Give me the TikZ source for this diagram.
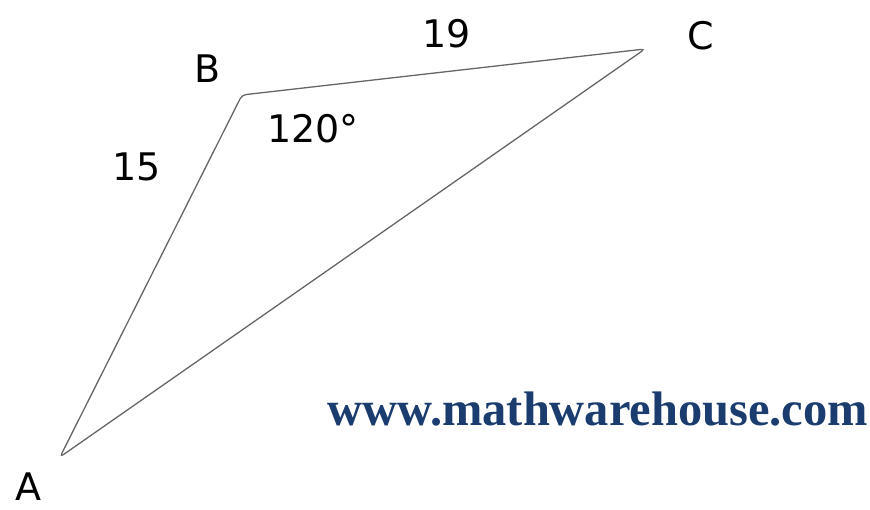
\documentclass[tikz,border=0pt]{standalone}
\usepackage{fontspec}
\setmainfont{DejaVu Sans}
\newfontfamily\urlfont{Liberation Serif}
\definecolor{urlblue}{HTML}{1A3C6E}
\begin{document}
\begin{tikzpicture}[x=1pt,y=1pt,
  lbl/.style={font=\fontsize{38}{44}\selectfont, text=black, inner sep=0pt},
  side/.style={draw=black!60, line width=1.3pt}]
\useasboundingbox (0,0) rectangle (870,510);
\coordinate (A) at (60,53);
\coordinate (B) at (242,415);
\coordinate (C) at (645,461);
\draw[side, rounded corners=4pt] (A) -- (B) -- (C) -- cycle;
\node[lbl] (lA) at (28,23) {A};
\node[lbl] (lB) at (208,441) {B};
\node[lbl] (lC) at (701,474) {C};
\node[lbl] (l19) at (447,476) {19};
\node[lbl] (l15) at (137,343) {15};
\node[lbl] (lang) at (313,381) {120°};
\node[inner sep=0pt, text=urlblue] (url) at (598,101) {\resizebox{540pt}{!}{\urlfont\bfseries www.mathwarehouse.com}};
\end{tikzpicture}
\end{document}
